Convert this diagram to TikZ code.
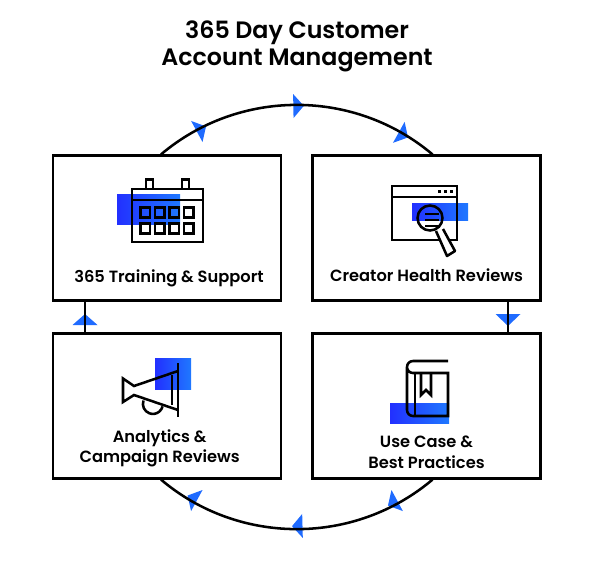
\documentclass[tikz,border=0pt]{standalone}
\usepackage{fontspec}
\setmainfont{Poppins}[UprightFont=* SemiBold,BoldFont=* Bold]
\usetikzlibrary{positioning}
\definecolor{tipblue}{HTML}{1F6BFF}
\definecolor{bandleft}{HTML}{2230FF}
\definecolor{bandright}{HTML}{1F78FF}
\tikzset{
  cardbox/.style={draw, line width=1.9pt, minimum width=171pt, minimum height=108.5pt, inner sep=0},
  cardlabel/.style={align=center, inner sep=0, font=\fontsize{12.2}{15.6}\selectfont},
  ringline/.style={line width=1.9pt},
  iconline/.style={line width=1.9pt, line join=miter},
  band/.style={left color=bandleft, right color=bandright, draw=none},
  tip/.style={fill=tipblue, draw=none}
}
\begin{document}
\begin{tikzpicture}[x=0.75pt,y=0.75pt]
  \useasboundingbox (0,0) rectangle (600,-562);
  \node[align=center, inner sep=0, font=\fontsize{17.8}{20.3}\selectfont] (title) at (297,-46)
  {365 Day Customer \\ Account Management};

  % colour bands go under the icons
  \shade[band] (117,-194) rectangle (180,-224);
  \shade[band] (412,-203) rectangle (468,-220);
  \shade[band] (155,-358) rectangle (191,-389);
  \shade[band] (390,-403) rectangle (449,-423);

  \node[cardbox] (train) at (167,-228) {};
  \node[cardbox] (creator) at (426.5,-228) {};
  \node[cardbox] (campaign) at (167,-406) {};
  \node[cardbox] (usecase) at (426.5,-406) {};

  \node[cardlabel, above=11pt of train.south, xshift=1.5pt] (trainlabel) {365 Training \& Support};
  \node[cardlabel, above=14.5pt of creator.south] (creatorlabel) {Creator Health Reviews};
  \node[cardlabel, above=9pt of campaign.south, xshift=-5.5pt] (campaignlabel) {Analytics \& \\ Campaign Reviews};
  \node[cardlabel, above=8pt of usecase.south] (usecaselabel) {Use Case \& \\ Best Practices};

  % where the ring and the links meet the boxes
  \coordinate (ringleft) at (161,-316);
  \coordinate (ringright) at (432.5,-316);
  \coordinate (linkleft) at (85,-316);
  \coordinate (linkright) at (508,-316);

  % tips go under the lines
  \foreach \a in {118.5,91,61,-61.5,-88.5,-118.5}
    \fill[tip, shift={(297,-316)}, rotate=\a] (222,0) -- (198,0) -- (210,-10.5) -- cycle;
  \fill[tip] (72.5,-325) -- (97.5,-325) -- (85,-314) -- cycle;
  \fill[tip] (495.5,-314) -- (520.5,-314) -- (508,-326) -- cycle;

  \draw[ringline] (train.north -| ringleft) to[bend left=40.2, looseness=0.966] (creator.north -| ringright);
  \draw[ringline] (usecase.south -| ringright) to[bend left=40.2, looseness=0.966] (campaign.south -| ringleft);
  \draw[ringline] (campaign.north -| linkleft) -- (train.south -| linkleft);
  \draw[ringline] (creator.south -| linkright) -- (usecase.north -| linkright);

  % calendar
  \draw[iconline] (132,-189) rectangle (203,-242);
  \draw[iconline] (132,-200) -- (203,-200);
  \foreach \x in {146,182}
    \draw[iconline] (\x,-189) -- (\x,-179.5) -- (\x+7,-179.5) -- (\x+7,-189);
  \foreach \x in {140.5,155,169.5,184}
    \foreach \y in {-207.5,-223.5}
      \draw[iconline] (\x,\y) rectangle (\x+9.5,\y-10);

  % window and lens
  \draw[iconline] (392,-186) rectangle (457,-240);
  \draw[iconline] (392,-197) -- (457,-197);
  \foreach \x in {439.5,445.5,451.5}
    \fill (\x-1.7,-190.3) rectangle (\x+1.7,-193.3);
  \draw[iconline] (430,-218) circle (12.5);
  \foreach \y in {-214,-220,-226}
    \draw[iconline] (425,\y) -- (439,\y);
  \draw[iconline, fill=white, line join=round] (436,-231) -- (447,-256) -- (455,-251) -- (443,-229);

  % megaphone
  \draw[iconline] (178,-363) -- (178,-417);
  \draw[iconline] (172,-375) -- (172,-405);
  \draw[iconline] (178,-371) -- (134,-386) -- (123,-378.5) -- (123,-402) -- (134,-395) -- (178,-410);
  \draw[iconline] (143.5,-400.5) arc[start angle=160, end angle=346, radius=10];

  % book
  \draw[iconline] (448,-361) -- (413,-361) arc[start angle=90, end angle=180, radius=6]
    -- (407,-410) arc[start angle=180, end angle=270, radius=6] -- (448,-416) -- (448,-373)
    -- (413,-373) arc[start angle=270, end angle=180, radius=6];
  \draw[iconline] (415,-373) -- (415,-416);
  \draw[iconline] (421,-373) -- (421,-395) -- (426,-390) -- (431,-395) -- (431,-373);
\end{tikzpicture}
\end{document}
